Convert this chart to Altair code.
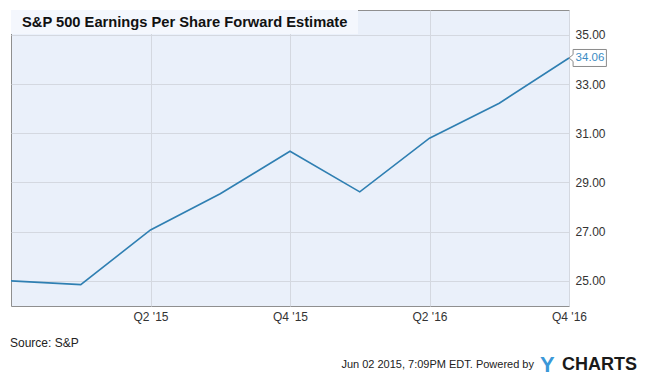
import altair as alt
import pandas as pd

quarters = ["Q4 '14", "Q1 '15", "Q2 '15", "Q3 '15", "Q4 '15", "Q1 '16", "Q2 '16", "Q3 '16", "Q4 '16"]
eps = [25.00, 24.85, 27.07, 28.54, 30.27, 28.62, 30.80, 32.22, 34.06]
x_ticks = ["Q2 '15", "Q4 '15", "Q2 '16", "Q4 '16"]
y_ticks = [25, 27, 29, 31, 33, 35]

title_text = "S&P 500 Earnings Per Share Forward Estimate"
source_text = "Source: S&P"
stamp_text = "Jun 02 2015, 7:09PM EDT.  Powered by"

df = pd.DataFrame({"quarter": quarters, "eps": eps})
last = df.tail(1)

FONT = "Liberation Sans"
W, H = 558, 296

x_enc = alt.X("quarter:O", sort=quarters,
              scale=alt.Scale(type="point", padding=0, domain=quarters),
              axis=alt.Axis(values=x_ticks, title=None, labelAngle=0, ticks=False, tickSize=0,
                            domain=False, grid=True, gridColor="#d4d8e0", labelFont=FONT,
                            labelFontSize=12, labelColor="#333333", labelPadding=5))
y_enc = alt.Y("eps:Q", scale=alt.Scale(domain=[23.98, 36.01], nice=False, zero=False),
              axis=alt.Axis(orient="right", values=y_ticks, format=".2f", title=None,
                            ticks=False, tickSize=0, domain=False, grid=True, gridColor="#d4d8e0",
                            labelFont=FONT, labelFontSize=12, labelColor="#333333", labelPadding=6))

line = alt.Chart(df).mark_line(color="#2f7fb2", strokeWidth=1.6).encode(x=x_enc, y=y_enc)

title_box = alt.Chart(df.head(1)).mark_rect(fill="#f4f7fd").encode(
    x=alt.value(0), x2=alt.value(347), y=alt.value(0), y2=alt.value(24))
title = alt.Chart(df.head(1)).mark_text(
    text=title_text, font=FONT, fontSize=14.7, fontWeight="bold", color="#111111",
    align="left", baseline="middle").encode(x=alt.value(11), y=alt.value(13))

box_path = "M0,0 L0.24,-0.2 L0.24,-0.5 L2.2,-0.5 L2.2,0.5 L0.24,0.5 L0.24,0.2 Z"
last_box = alt.Chart(last).mark_point(
    shape=box_path, size=1156, filled=True, fill="white", stroke="#8a8a8a",
    strokeWidth=1, opacity=1).encode(x=x_enc, y=y_enc)
last_text = alt.Chart(last).mark_text(
    font=FONT, fontSize=11.5, color="#3a8cc4", align="center", baseline="middle", dx=21, dy=0.5
).encode(x=x_enc, y=y_enc, text=alt.Text("eps:Q", format=".2f"))

source = alt.Chart(df.head(1)).mark_text(
    text=source_text, font=FONT, fontSize=12, color="#222222", align="left",
    baseline="middle").encode(x=alt.value(-1), y=alt.value(333))
stamp = alt.Chart(df.head(1)).mark_text(
    text=stamp_text, font=FONT, fontSize=11, color="#222222", align="right",
    baseline="middle").encode(x=alt.value(523), y=alt.value(355))
logo_y = alt.Chart(df.head(1)).mark_text(
    text="Y", font=FONT, fontSize=22, fontWeight="bold", color="#3b98d8", align="left",
    baseline="middle").encode(x=alt.value(529), y=alt.value(355))
logo_c = alt.Chart(df.head(1)).mark_text(
    text="CHARTS", font=FONT, fontSize=18, fontWeight="bold", color="#1a1a1a", align="left",
    baseline="middle").encode(x=alt.value(551), y=alt.value(355))

chart = alt.layer(line, title_box, title, last_box, last_text, source, stamp, logo_y, logo_c).properties(
    width=W, height=H,
    padding={"left": 3, "top": 2, "right": 72, "bottom": 72},
    autosize="none",
    background="white",
).configure_view(fill="#eaf0fa", stroke="#8f8f8f", strokeWidth=1)

chart.save("out.html", embed_options={"renderer": "svg", "actions": False})
